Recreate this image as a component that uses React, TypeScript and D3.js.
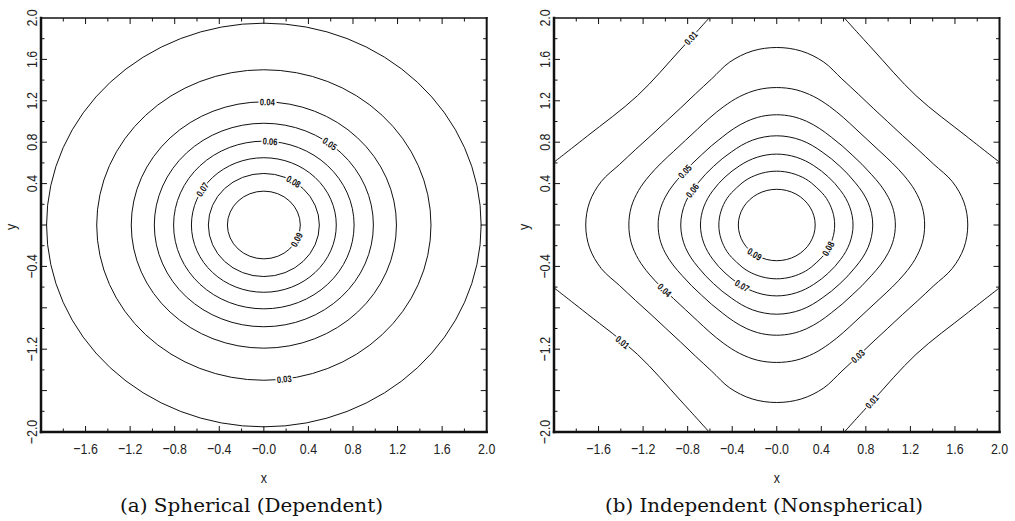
import React, { useEffect, useRef } from "react";
import * as d3 from "d3";

// axis ticks shared by both panels
const xTicks = [-1.6, -1.2, -0.8, -0.4, 0, 0.4, 0.8, 1.2, 1.6, 2.0];
const xTickLabels = ["−1.6", "−1.2", "−0.8", "−0.4", "−0.0", "0.4", "0.8", "1.2", "1.6", "2.0"];
const yTicks = [2.0, 1.6, 1.2, 0.8, 0.4, -0.4, -1.2, -2.0];
const yTickLabels = ["2.0", "1.6", "1.2", "0.8", "0.4", "−0.4", "−1.2", "−2.0"];
const majorTicks = [-1.6, -1.2, -0.8, -0.4, 0, 0.4, 0.8, 1.2, 1.6];
const minorTicks = [-1.8, -1.4, -1.0, -0.6, -0.2, 0.2, 0.6, 1.0, 1.4, 1.8];

// (a) spherical: one circle per level (radius in data units)
const sphLevels = [0.02, 0.03, 0.04, 0.05, 0.06, 0.07, 0.08, 0.09];
const sphRadii = [1.95, 1.5, 1.19, 0.983, 0.81, 0.65, 0.498, 0.327];
const sphLabelLevels = [0.04, 0.06, 0.05, 0.08, 0.09, 0.07, 0.03];
const sphLabelAngles = [88.5, 86, 53, 57.6, -25.8, 148, -83];

// (b) independent: polar radius of each contour from 0 to 45 degrees
const profileAngles = [0, 7.5, 15, 22.5, 30, 37.5, 45];
const indLevels = [0.03, 0.04, 0.05, 0.06, 0.07, 0.08, 0.09];
const indProfiles = [
  [1.715, 1.695, 1.63, 1.528, 1.462, 1.422, 1.41],
  [1.328, 1.318, 1.285, 1.24, 1.198, 1.168, 1.158],
  [1.065, 1.058, 1.037, 1.008, 0.98, 0.964, 0.957],
  [0.862, 0.858, 0.848, 0.832, 0.815, 0.806, 0.802],
  [0.685, 0.683, 0.678, 0.671, 0.663, 0.658, 0.656],
  [0.52, 0.5195, 0.518, 0.5165, 0.515, 0.512, 0.509],
  [0.345, 0.345, 0.345, 0.345, 0.345, 0.345, 0.345],
];
// open 0.01 contour in the corners (first quadrant, mirrored)
const cornerLevel = 0.01;
const cornerX = [0.607, 0.86, 1.25, 1.7, 2.0];
const cornerY = [2.0, 1.7, 1.25, 0.86, 0.607];
const indLabelLevels = [0.01, 0.05, 0.06, 0.09, 0.08, 0.07, 0.04, 0.01, 0.03, 0.01];
const indLabelAngles = [113.1, 147.9, 156.3, 234.6, -26.3, 242.1, 212, 219.3, -60.1, -63.4];

const captions = ["(a) Spherical (Dependent)", "(b) Independent (Nonspherical)"];

const W = 1015;
const H = 521;
const top = 18;
const bottom = 432;
const rad = Math.PI / 180;
const fmt = d3.format(".2f");

function rayHit(pts, theta, closed) {
  const c = Math.cos(theta * rad);
  const s = Math.sin(theta * rad);
  const n = closed ? pts.length : pts.length - 1;
  for (let i = 0; i < n; i++) {
    const p = pts[i];
    const q = pts[(i + 1) % pts.length];
    const ex = q[0] - p[0];
    const ey = q[1] - p[1];
    const den = c * ey - s * ex;
    if (Math.abs(den) < 1e-9) continue;
    const t = (p[0] * ey - p[1] * ex) / den;
    const u = (p[0] * s - p[1] * c) / den;
    if (t > 0 && u >= 0 && u <= 1) {
      return { x: t * c, y: t * s, p, q };
    }
  }
  return null;
}

function upright(a) {
  while (a > 90) a -= 180;
  while (a <= -90) a += 180;
  return a;
}

function contourLabel(g, px, py, ang, text) {
  g.append("text")
    .attr("transform", `translate(${px},${py}) rotate(${ang}) scale(0.8,1)`)
    .attr("text-anchor", "middle")
    .attr("dy", "0.36em")
    .attr("font-family", "'Liberation Sans', Arial, sans-serif")
    .attr("font-size", 9.5)
    .attr("font-weight", "bold")
    .attr("fill", "#111")
    .attr("stroke", "white")
    .attr("stroke-width", 4)
    .attr("paint-order", "stroke")
    .text(text);
}

function drawFrame(svg, left, right, idx) {
  const xs = d3.scaleLinear().domain([-2, 2]).range([left, right]);
  const ys = d3.scaleLinear().domain([-2, 2]).range([bottom, top]);
  const font = "'Liberation Sans', Arial, sans-serif";

  // clip for the contour lines
  const clipId = `clip${idx}`;
  svg.append("clipPath").attr("id", clipId)
    .append("rect").attr("x", left).attr("y", top).attr("width", right - left).attr("height", bottom - top);
  const plot = svg.append("g").attr("clip-path", `url(#${clipId})`);

  const g = svg.append("g");
  // ticks, pointing inward on all four sides
  const tickSet = majorTicks.map((v) => ({ v, len: 6 })).concat(minorTicks.map((v) => ({ v, len: 3.5 })));
  tickSet.forEach((t) => {
    g.append("line").attr("x1", xs(t.v)).attr("x2", xs(t.v)).attr("y1", bottom).attr("y2", bottom - t.len);
    g.append("line").attr("x1", xs(t.v)).attr("x2", xs(t.v)).attr("y1", top).attr("y2", top + t.len);
    g.append("line").attr("y1", ys(t.v)).attr("y2", ys(t.v)).attr("x1", left).attr("x2", left + t.len);
    g.append("line").attr("y1", ys(t.v)).attr("y2", ys(t.v)).attr("x1", right).attr("x2", right - t.len);
  });
  g.selectAll("line").attr("stroke", "#111").attr("stroke-width", 1);

  const frame = [
    [left, top, right, top, 1.5],
    [right, top, right, bottom, 2],
    [left, bottom, right, bottom, 2.5],
    [left, top, left, bottom, 2.5],
  ];
  frame.forEach((f) => {
    g.append("line")
      .attr("x1", f[0]).attr("y1", f[1]).attr("x2", f[2]).attr("y2", f[3])
      .attr("stroke", "#111").attr("stroke-width", f[4]).attr("stroke-linecap", "square");
  });

  xTicks.forEach((v, i) => {
    g.append("text")
      .attr("transform", `translate(${xs(v)},${448}) scale(0.8,1)`)
      .attr("text-anchor", "middle").attr("dy", "0.36em")
      .attr("font-family", font).attr("font-size", 15.5).attr("fill", "#222")
      .text(xTickLabels[i]);
  });
  yTicks.forEach((v, i) => {
    g.append("text")
      .attr("transform", `translate(${left - 10},${ys(v)}) rotate(-90) scale(0.8,1)`)
      .attr("text-anchor", "middle").attr("dy", "0.36em")
      .attr("font-family", font).attr("font-size", 15.5).attr("fill", "#222")
      .text(yTickLabels[i]);
  });
  g.append("text")
    .attr("transform", `translate(${xs(0)},478) scale(0.8,1)`)
    .attr("text-anchor", "middle").attr("dy", "0.3em")
    .attr("font-family", font).attr("font-size", 15.5).attr("fill", "#222")
    .text("x");
  g.append("text")
    .attr("transform", `translate(${left - 30},${ys(0) + 2}) rotate(-90) scale(0.8,1)`)
    .attr("text-anchor", "middle").attr("dy", "0.3em")
    .attr("font-family", font).attr("font-size", 15.5).attr("fill", "#222")
    .text("y");

  const capW = [263, 318][idx];
  const capX = [251.5, 764][idx];
  g.append("text")
    .attr("x", capX).attr("y", 512)
    .attr("text-anchor", "middle")
    .attr("font-family", "'DejaVu Serif', serif")
    .attr("font-size", 18)
    .attr("textLength", capW)
    .attr("lengthAdjust", "spacingAndGlyphs")
    .attr("fill", "#111")
    .text(captions[idx]);

  const labels = svg.append("g");
  return { xs, ys, plot, labels };
}

const App = () => {
  const ref = useRef(null);

  useEffect(() => {
    const svg = d3.select(ref.current);
    svg.selectAll("*").remove();
    svg.append("rect").attr("width", W).attr("height", H).attr("fill", "white");

    // (a) spherical
    {
      const { xs, ys, plot, labels } = drawFrame(svg, 41, 486.7, 0);
      plot.selectAll("ellipse")
        .data(sphRadii)
        .join("ellipse")
        .attr("cx", xs(0))
        .attr("cy", ys(0))
        .attr("rx", (r) => xs(r) - xs(0))
        .attr("ry", (r) => ys(0) - ys(r))
        .attr("fill", "none")
        .attr("stroke", "#111")
        .attr("stroke-width", 1);
      sphLabelLevels.forEach((lev, i) => {
        const r = sphRadii[sphLevels.indexOf(lev)];
        const th = sphLabelAngles[i] * rad;
        const px = xs(r * Math.cos(th));
        const py = ys(r * Math.sin(th));
        const dx = -Math.sin(th) * (xs(1) - xs(0));
        const dy = -Math.cos(th) * (ys(0) - ys(1));
        const ang = upright((Math.atan2(dy, dx) * 180) / Math.PI);
        contourLabel(labels, px, py, ang, fmt(lev));
      });
    }

    // (b) independent
    {
      const { xs, ys, plot, labels } = drawFrame(svg, 554, 999.5, 1);
      const line = d3.line().x((d) => xs(d[0])).y((d) => ys(d[1]));
      const shapes = new Map();
      indProfiles.forEach((prof, k) => {
        const pts = [];
        for (let a = 0; a < 360; a += 7.5) {
          const m = a % 90;
          const j = profileAngles.indexOf(m <= 45 ? m : 90 - m);
          pts.push([prof[j] * Math.cos(a * rad), prof[j] * Math.sin(a * rad)]);
        }
        shapes.set(indLevels[k], { pts, closed: true });
        plot.append("path")
          .attr("d", line.curve(d3.curveCatmullRomClosed.alpha(0.5))(pts))
          .attr("fill", "none").attr("stroke", "#111").attr("stroke-width", 1);
      });
      const corners = [];
      [[1, 1], [-1, 1], [-1, -1], [1, -1]].forEach(([sx, sy]) => {
        const pts = cornerX.map((x, i) => [x * sx, cornerY[i] * sy]);
        corners.push(pts);
        plot.append("path")
          .attr("d", line.curve(d3.curveCatmullRom.alpha(0.5))(pts))
          .attr("fill", "none").attr("stroke", "#111").attr("stroke-width", 1);
      });
      indLabelLevels.forEach((lev, i) => {
        const th = indLabelAngles[i];
        let hit = null;
        if (lev === cornerLevel) {
          for (const pts of corners) {
            hit = rayHit(pts, th, false);
            if (hit) break;
          }
        } else {
          const s = shapes.get(lev);
          hit = rayHit(s.pts, th, true);
        }
        if (!hit) return;
        const dx = xs(hit.q[0]) - xs(hit.p[0]);
        const dy = ys(hit.q[1]) - ys(hit.p[1]);
        const ang = upright((Math.atan2(dy, dx) * 180) / Math.PI);
        contourLabel(labels, xs(hit.x), ys(hit.y), ang, fmt(lev));
      });
    }
  }, []);

  return (
    <svg
      ref={ref}
      width={W}
      height={H}
      style={{ position: "absolute", left: 0, top: 0, display: "block" }}
    />
  );
};

export default App;
